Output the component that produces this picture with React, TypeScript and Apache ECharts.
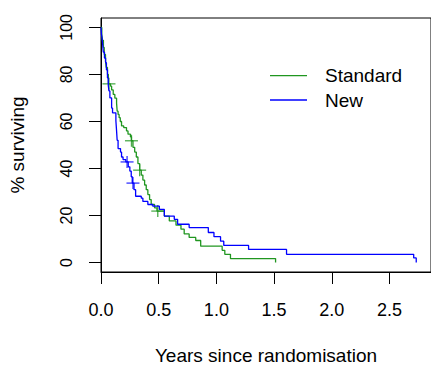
import { useEffect, useRef } from "react";
import * as echarts from "echarts";

const seriesNames = ["Standard", "New"];
const colors = ["#209620", "#0000FF"];

const standardTimes = [0, 0.007, 0.013, 0.021, 0.028, 0.039, 0.045, 0.056, 0.064, 0.082, 0.092, 0.106, 0.12, 0.135, 0.14, 0.148, 0.157, 0.167, 0.178, 0.197, 0.221, 0.234, 0.255, 0.264, 0.277, 0.292, 0.306, 0.32, 0.335, 0.349, 0.363, 0.378, 0.392, 0.406, 0.421, 0.435, 0.464, 0.485, 0.549, 0.592, 0.65, 0.693, 0.721, 0.764, 0.821, 0.864, 1.05, 1.073, 1.122, 1.513];
const standardSurvival = [100, 97, 94.5, 91.5, 88.5, 85.5, 83, 80, 76, 75, 73.4, 71.5, 69.9, 67.8, 64.4, 63, 61.6, 60, 58.1, 57.4, 56, 54.6, 53.5, 51.8, 49, 47, 44.9, 42.1, 39.3, 37.2, 35.1, 33, 31, 28.9, 26.8, 24.7, 23.3, 21.9, 19.8, 17.7, 15.9, 14.2, 12.2, 10.7, 9.4, 7, 5.2, 3.5, 1.7, 0];

const newTimes = [0, 0.004, 0.009, 0.015, 0.02, 0.03, 0.04, 0.047, 0.056, 0.063, 0.069, 0.077, 0.092, 0.1, 0.129, 0.135, 0.14, 0.148, 0.169, 0.178, 0.191, 0.215, 0.236, 0.25, 0.262, 0.271, 0.286, 0.3, 0.349, 0.363, 0.406, 0.449, 0.506, 0.549, 0.635, 0.664, 0.764, 0.93, 0.979, 1.036, 1.064, 1.279, 1.608, 2.71, 2.732];
const newSurvival = [100, 97, 95.5, 92.5, 89.5, 87, 85, 82, 78.5, 75.3, 73, 70, 65.7, 63.7, 60.3, 56, 52, 48.5, 47, 44.9, 43.8, 42.8, 40.7, 38.9, 36.5, 33.8, 31, 28.2, 27.4, 26, 24.7, 24, 22.6, 19.8, 18.4, 16.3, 14.9, 12.8, 11, 9.1, 7.3, 5.6, 3.5, 2, 0];

const standardCensorTimes = [0.069, 0.264, 0.335, 0.492];
const standardCensorSurvival = [76, 51.8, 39.3, 21.9];
const newCensorTimes = [0.226, 0.277];
const newCensorSurvival = [42.8, 33.8];

const xTicks = [0, 0.5, 1, 1.5, 2, 2.5];
const yTicks = [0, 20, 40, 60, 80, 100];

const FONT = "'Liberation Sans', Arial, Helvetica, sans-serif";

function zip(a: number[], b: number[]) {
  return a.map((v, i) => [v, b[i]]);
}

export default function App() {
  const ref = useRef<HTMLDivElement>(null);
  useEffect(() => {
    if (!ref.current) return;
    const chart = echarts.init(ref.current, undefined, { renderer: "svg" });
    const curves = [
      { name: seriesNames[0], data: zip(standardTimes, standardSurvival), color: colors[0] },
      { name: seriesNames[1], data: zip(newTimes, newSurvival), color: colors[1] },
    ];
    const censors = [
      { data: zip(standardCensorTimes, standardCensorSurvival), color: colors[0] },
      { data: zip(newCensorTimes, newCensorSurvival), color: colors[1] },
    ];
    const series: any[] = [];
    curves.forEach((c) => {
      series.push({
        type: "line",
        name: c.name,
        data: c.data,
        step: "end",
        symbol: "none",
        showSymbol: false,
        color: c.color,
        lineStyle: { color: c.color, width: 1.3 },
        silent: true,
      });
    });
    censors.forEach((c, i) => {
      series.push({
        type: "scatter",
        name: seriesNames[i] + " censored",
        data: c.data,
        symbol: "rect",
        symbolSize: [13, 1.3],
        itemStyle: { color: c.color },
        silent: true,
      });
      series.push({
        type: "scatter",
        name: seriesNames[i] + " censored ",
        data: c.data,
        symbol: "rect",
        symbolSize: [1.3, 12],
        itemStyle: { color: c.color },
        silent: true,
      });
    });
    chart.setOption({
      animation: false,
      backgroundColor: "#ffffff",
      textStyle: { fontFamily: FONT, color: "#000" },
      grid: {
        left: 101,
        top: 18,
        width: 333,
        height: 259,
        show: true,
        borderColor: "#000",
        borderWidth: 1,
        backgroundColor: "transparent",
        containLabel: false,
      },
      legend: {
        data: seriesNames.map((n, i) => ({ name: n, icon: "rect", itemStyle: { color: colors[i] } })),
        orient: "vertical",
        left: 270,
        top: 66.2,
        padding: 0,
        itemWidth: 37,
        itemHeight: 1.3,
        itemGap: 5.3,
        textStyle: { fontFamily: FONT, fontSize: 19, color: "#000", padding: [0, 0, 0, 13] },
      },
      xAxis: {
        type: "value",
        min: 0,
        max: 2.86,
        interval: 0.5,
        name: "Years since randomisation",
        nameLocation: "middle",
        nameGap: 74,
        nameTextStyle: { fontFamily: FONT, fontSize: 19, color: "#000" },
        axisLine: { show: true, onZero: false, lineStyle: { color: "#000", width: 1 } },
        axisTick: { show: true, length: 12, inside: false, customValues: xTicks, lineStyle: { color: "#000", width: 1 } },
        axisLabel: {
          customValues: xTicks,
          margin: 28.5,
          fontFamily: FONT,
          fontSize: 18,
          color: "#000",
          formatter: (v: number) => v.toFixed(1),
        },
        splitLine: { show: false },
      },
      yAxis: {
        type: "value",
        min: -4,
        max: 104,
        name: "% surviving",
        nameLocation: "middle",
        nameGap: 74,
        nameRotate: 90,
        nameTextStyle: { fontFamily: FONT, fontSize: 19, color: "#000" },
        axisLine: { show: true, onZero: false, lineStyle: { color: "#000", width: 1 } },
        axisTick: { show: true, length: 12, inside: false, customValues: yTicks, lineStyle: { color: "#000", width: 1 } },
        axisLabel: {
          customValues: yTicks,
          rotate: 90,
          margin: 27,
          fontFamily: FONT,
          fontSize: 16,
          color: "#000",
        },
        splitLine: { show: false },
      },
      series,
    });
    return () => chart.dispose();
  }, []);
  return (
    <div
      ref={ref}
      style={{ position: "absolute", left: 0, top: 0, width: 431, height: 370 }}
    />
  );
}
